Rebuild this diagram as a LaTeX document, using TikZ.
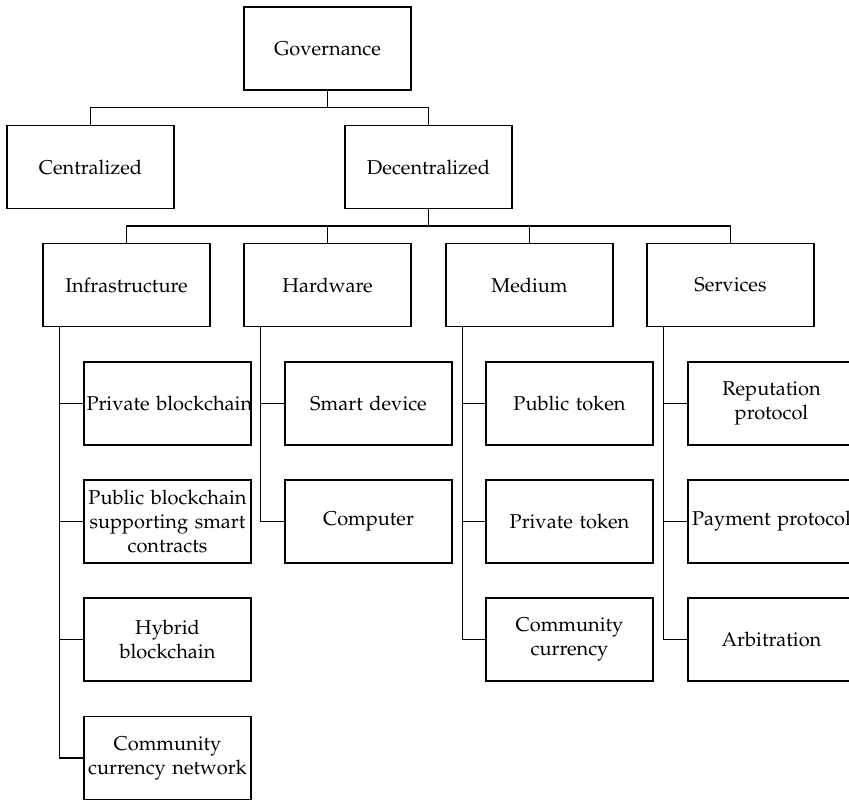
\documentclass[tikz,border=0pt]{standalone}
\usepackage[T1]{fontenc}
\usepackage{mathpazo}
\usetikzlibrary{calc}

\begin{document}
\begin{tikzpicture}[x=0.5pt,y=-0.5pt,line width=0.75pt,
    box/.style={draw,rectangle,minimum width=83.5pt,minimum height=41.5pt,
        inner xsep=1pt,text width=81pt,align=center}]
    \useasboundingbox (0,0) rectangle (849,802);
    % top levels
    \node[box] (gov) at (327.5,48.5) {Governance};
    \node[box] (cen) at (90.5,167) {Centralized};
    \node[box] (dec) at (428.5,167) {Decentralized};
    \node[box] (infra) at (126.5,285) {Infrastructure};
    \node[box] (hard) at (327.5,285) {Hardware};
    \node[box] (med) at (529.5,285) {Medium};
    \node[box] (serv) at (730.5,285) {Services};
    % leaves
    \node[box] (inf1) at (167.5,403.5) {Private~blockchain};
    \node[box] (inf2) at (167.5,521.5) {Public blockchain\\supporting smart\\contracts};
    \node[box] (inf3) at (167.5,639.5) {Hybrid\\blockchain};
    \node[box] (inf4) at (167.5,758) {Community\\currency network};
    \node[box] (hw1) at (368.5,403.5) {Smart device};
    \node[box] (hw2) at (368.5,521.5) {Computer};
    \node[box] (med1) at (569.5,403.5) {Public token};
    \node[box] (med2) at (569.5,521.5) {Private token};
    \node[box] (med3) at (569.5,639.5) {Community\\currency};
    \node[box] (srv1) at (771.5,403.5) {Reputation\\protocol};
    \node[box] (srv2) at (771.5,521.5) {Payment~protocol};
    \node[box] (srv3) at (771.5,639.5) {Arbitration};
    % buses
    \coordinate (bus1) at ($(gov.south)!.5!(gov.south |- cen.north)$);
    \draw (gov.south) -- (bus1);
    \draw (cen.north) |- (bus1) -| (dec.north);
    \coordinate (bus2) at ($(dec.south)!.5!(dec.south |- infra.north)$);
    \draw (dec.south) -- (bus2);
    \draw (infra.north) |- (bus2) -| (serv.north);
    \draw (hard.north) -- (hard.north |- bus2);
    \draw (med.north) -- (med.north |- bus2);
    % spines
    \coordinate (infS) at ($(infra.south west)+(17,0)$);
    \draw (infS) |- (inf4.west);
    \foreach \c in {inf1,inf2,inf3} \draw (\c.west) -- (\c.west -| infS);
    \coordinate (hwS) at ($(hard.south west)+(17,0)$);
    \draw (hwS) |- (hw2.west);
    \draw (hw1.west) -- (hw1.west -| hwS);
    \coordinate (medS) at ($(med.south west)+(17,0)$);
    \draw (medS) |- (med3.west);
    \foreach \c in {med1,med2} \draw (\c.west) -- (\c.west -| medS);
    \coordinate (srvS) at ($(serv.south west)+(17,0)$);
    \draw (srvS) |- (srv3.west);
    \foreach \c in {srv1,srv2} \draw (\c.west) -- (\c.west -| srvS);
\end{tikzpicture}
\end{document}
